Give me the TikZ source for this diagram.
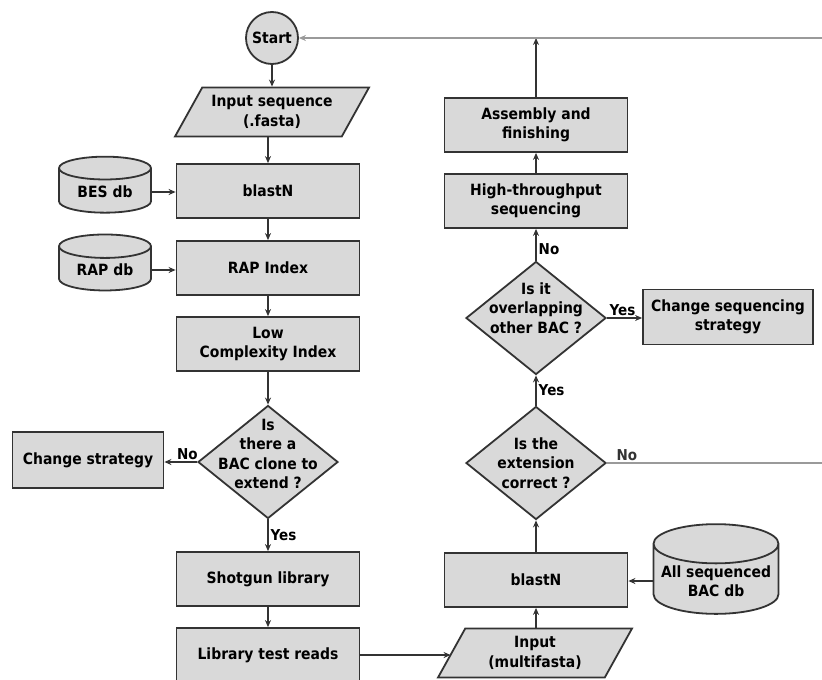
\documentclass[tikz,border=0pt]{standalone}
\usepackage{fontspec}
\setmainfont{DejaVu Sans}[FakeStretch=0.9]
\usetikzlibrary{shapes.geometric,arrows.meta,positioning}
\definecolor{boxfill}{HTML}{D9D9D9}
\definecolor{boxline}{HTML}{333333}
\definecolor{loopgray}{HTML}{9A9A9A}

\begin{document}
\begin{tikzpicture}[x=1pt, y=-1pt, font=\fontsize{15.5}{19.5}\selectfont\bfseries,
  line width=1.4pt, draw=boxline, >={Stealth[length=7pt,width=6pt]},
  proc/.style={draw=boxline, line width=1.8pt, fill=boxfill, minimum width=183pt, minimum height=54pt, align=center, inner sep=2pt},
  io/.style={trapezium, trapezium left angle=52, trapezium right angle=128, trapezium stretches body, draw=boxline, line width=1.8pt, fill=boxfill, minimum width=194pt, minimum height=49pt, align=center, inner sep=1pt},
  db/.style={cylinder, shape border rotate=90, aspect=0.4, draw=boxline, line width=1.8pt, fill=boxfill, minimum width=92pt, minimum height=56pt, align=center, inner sep=1pt},
  decision/.style={diamond, draw=boxline, line width=1.8pt, fill=boxfill, minimum width=140pt, minimum height=113pt, inner sep=0pt},
  term/.style={circle, draw=boxline, line width=1.8pt, fill=boxfill, minimum size=52pt, inner sep=0pt},
  flow/.style={->, draw=boxline, line width=1.4pt},
  loopline/.style={->, draw=loopgray, line width=1.2pt},
  tag/.style={font=\fontsize{15}{16}\selectfont\bfseries, inner sep=2pt}]
\useasboundingbox (0,0) rectangle (822,680);

% left column
\node[term] (start) at (272,38) {Start};
\node[io] (seq) at (272,112) {Input sequence\\(.fasta)};
\node[proc] (blastA) at (268,191) {blastN};
\node[db] (bes) at (105,192) {BES db};
\node[proc] (rapidx) at (268,268) {RAP Index};
\node[db] (rapdb) at (105,270) {RAP db};
\node[proc] (lowc) at (268,344) {Low\\Complexity Index};
\node[decision, label={[align=center, yshift=8pt]center:Is\\there a\\BAC clone to\\extend ?}] (clone) at (268,462) {};
\node[proc, minimum width=151pt, minimum height=56pt] (chstrat) at (88,460) {Change strategy};
\node[proc] (shotgun) at (268,579) {Shotgun library};
\node[proc] (reads) at (268,655) {Library test reads};

% right column
\node[io] (multi) at (535,653) {Input\\(multifasta)};
\node[proc] (blastB) at (536,580) {blastN};
\node[db, minimum width=125pt, minimum height=67pt, aspect=0.35] (allbac) at (716,581) {All sequenced\\BAC db};
\node[decision, label={[align=center]center:Is the\\extension\\correct ?}] (ext) at (536,463) {};
\node[decision, label={[align=center, yshift=10pt]center:Is it\\overlapping\\other BAC ?}] (overlap) at (536,318) {};
\node[proc, minimum width=170pt, minimum height=55pt] (chseq) at (728,317) {Change sequencing\\strategy};
\node[proc] (hts) at (536,201) {High-throughput\\sequencing};
\node[proc] (asm) at (536,125) {Assembly and\\finishing};
\coordinate (rim) at (828,0);

% connectors
\draw[flow] (start) -- (seq);
\draw[flow] (seq.south -| blastA) -- (blastA);
\draw[flow] (bes.east) -- (bes.east -| blastA.west);
\draw[flow] (blastA) -- (rapidx);
\draw[flow] (rapdb.east) -- (rapdb.east -| rapidx.west);
\draw[flow] (rapidx) -- (lowc);
\draw[flow] (lowc) -- (clone);
\draw[flow] (clone.west) -- node[tag, above, pos=0.3] {No} (clone.west -| chstrat.east);
\draw[flow] (clone) -- node[tag, right] {Yes} (shotgun);
\draw[flow] (shotgun) -- (reads);
\draw[flow] (reads) -- (reads -| multi.west);
\draw[flow] (multi.north -| blastB) -- (blastB);
\draw[flow] (allbac.west) -- (allbac.west -| blastB.east);
\draw[flow] (blastB) -- (ext);
\draw[flow] (ext) -- node[tag, right] {Yes} (overlap);
\draw[flow] (overlap.east) -- node[tag, above, xshift=-2pt] {Yes} (overlap.east -| chseq.west);
\draw[flow] (overlap) -- node[tag, right, pos=0.35] {No} (hts);
\draw[flow] (hts) -- (asm);
\draw[flow] (asm.north) -- (asm.north |- start.east);
\draw[loopline] (ext.east) -- node[tag, above, pos=0.09, text=boxline] {No} (ext.east -| rim) |- (start.east);
\end{tikzpicture}
\end{document}
